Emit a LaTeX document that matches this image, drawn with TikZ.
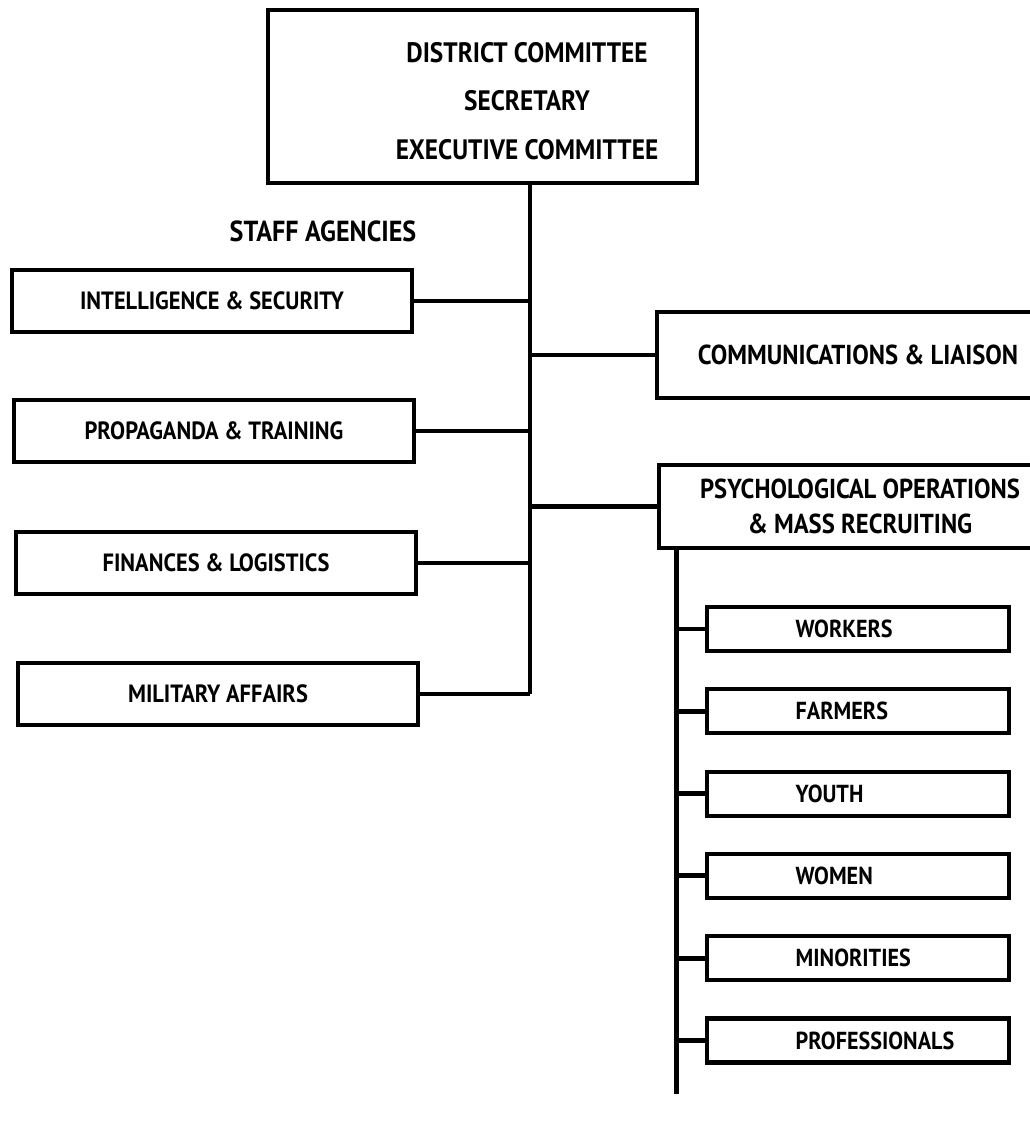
\documentclass[tikz,border=0pt]{standalone}
\usepackage{fontspec}
\setmainfont{PT Sans}[FakeStretch=0.9]
\usetikzlibrary{positioning, calc}

\begin{document}
\begin{tikzpicture}[
    x=0.02cm, y=-0.02cm,
    box/.style={rectangle, draw, line width=2.3pt, align=center,
                font=\bfseries\fontsize{14.2}{20}\selectfont},
    staff/.style={box, minimum width=8.02cm, minimum height=1.24cm},
    branch/.style={box, minimum width=8.06cm, font=\bfseries\fontsize{15.6}{20}\selectfont},
    mass/.style={box, minimum width=6.06cm, minimum height=0.88cm},
    masslbl/.style={font=\bfseries\fontsize{14}{16}\selectfont},
    link/.style={line width=2.8pt}
]
    \clip (0,0) rectangle (1030,1123);

    % Committee at the head
    \node[box, minimum width=8.58cm, minimum height=3.46cm] (district) at (482.5,96.5) {};
    \node[align=center, font=\bfseries\fontsize{16}{27.5}\selectfont] (districtlbl) at (527,101)
        {DISTRICT COMMITTEE\\SECRETARY\\EXECUTIVE COMMITTEE};

    % Staff agencies
    \node[font=\bfseries\fontsize{16.5}{18}\selectfont] (stafflbl) at (323,231) {STAFF AGENCIES};
    \coordinate (tktop) at (530,183);
    \foreach \nm/\lbl/\yy [count=\i] in {intel/INTELLIGENCE \& SECURITY/301,
                                         propa/PROPAGANDA \& TRAINING/431,
                                         fin/FINANCES \& LOGISTICS/563,
                                         mil/MILITARY AFFAIRS/694} {
        \node[staff] (\nm) at (210+2*\i,\yy) {\lbl};
        \draw[link] (\nm.east) -- (\nm.east -| tktop);
    }
    \coordinate (tkend) at (mil.east -| tktop);
    \draw[link] (tktop) -- (tkend);

    % Right branch
    \node[branch, minimum height=1.72cm] (comm) at (858,355) {COMMUNICATIONS \& LIAISON};
    \node[branch, minimum height=1.66cm] (psyops) at (860,506.5)
        {PSYCHOLOGICAL OPERATIONS\\\& MASS RECRUITING};
    \draw[link] (comm.west -| tktop) -- (comm.west);
    \draw[link] (psyops.west -| tktop) -- (psyops.west);

    % Mass organizations
    \coordinate (subtop) at ([xshift=0.4cm]psyops.south west);
    \coordinate (subend) at ($(subtop)+(0,544)$);
    \draw[link] (subtop) -- (subend);
    \foreach \nm/\lbl [count=\i from 0] in {workers/WORKERS, farmers/FARMERS, youth/YOUTH,
                                            women/WOMEN, minor/MINORITIES, prof/PROFESSIONALS} {
        \node[mass] (\nm) at (858,629+82.3*\i) {};
        \node[masslbl, right=1.7cm of \nm.west] (\nm-lbl) {\lbl};
        \draw[link] (\nm.west -| subtop) -- (\nm.west);
    }
\end{tikzpicture}
\end{document}
